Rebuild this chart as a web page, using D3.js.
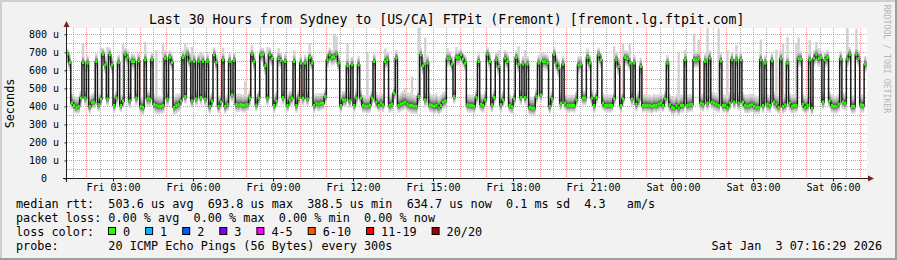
<!DOCTYPE html>
<html><head><meta charset="utf-8">
<script src="https://cdn.jsdelivr.net/npm/d3@7"></script>
<style>
body{margin:0;background:#f2f2f2}
svg{display:block}
text{font-family:"DejaVu Sans Mono",monospace;fill:#000;white-space:pre}
</style>
</head><body>
<svg id="chart" width="897" height="260"></svg>
<script>
// ---------------- data ----------------
const title = "Last 30 Hours from Sydney to [US/CA] FTPit (Fremont) [fremont.lg.ftpit.com]";
const yUnitLabel = "Seconds";
const watermark = "RRDTOOL / TOBI OETIKER";
const endTime = new Date(2026, 0, 3, 7, 16, 29);
const spanHours = 30;
const stepSeconds = 300;
const yMax = 832;

// median rtt per 300 s step, in microseconds
const median = [
690,643,420,405,394,400,446,643,447,640,400,420,424,649,410,440,689,630,442,686,
630,405,446,643,405,430,689,670,431,649,649,446,652,400,394,658,442,440,658,410,
405,400,400,405,665,442,671,643,395,405,410,430,671,455,689,652,431,649,442,652,
449,649,442,649,400,430,686,643,400,424,658,400,
410,650,465,655,410,408,410,405,408,410,446,689,648,408,446,686,689,625,446,686,
665,405,431,665,655,449,649,405,436,446,649,405,446,640,446,640,442,671,640,405,
418,412,418,418,455,658,686,671,676,689,640,405,436,436,625,431,630,405,446,630,
446,405,400,400,405,446,649,424,405,418,409,649,
660,405,412,473,667,405,412,418,424,412,405,405,400,400,455,686,625,436,640,409,
405,400,405,390,405,424,431,665,665,634,455,671,671,686,663,640,409,405,405,400,
449,649,412,405,436,689,649,409,449,658,621,409,436,667,649,405,398,442,671,634,
449,634,449,634,394,390,390,455,640,464,649,649,
640,400,442,689,640,612,418,634,418,405,405,405,405,436,630,634,446,446,671,640,
446,405,449,686,658,418,405,405,405,405,442,658,621,405,442,671,665,640,442,640,
412,436,621,405,405,405,405,400,405,405,412,418,405,442,640,409,394,390,405,390,
405,405,658,405,409,412,658,658,663,418,412,649,
418,667,424,418,412,405,652,405,405,394,418,658,424,658,418,658,424,405,400,405,
409,400,394,394,658,405,640,412,405,652,424,412,394,663,400,409,640,418,400,405,
405,665,663,412,394,405,658,390,667,686,665,671,424,658,671,431,405,400,400,412,
663,424,418,663,689,400,400,689,665,409,405,634
];
// smoke extent above / below the median (us)
const smokeUp = [
30,45,50,55,60,55,40,45,40,45,60,50,55,45,55,45,35,50,45,40,
45,60,40,45,55,50,35,45,50,45,40,45,45,60,55,45,45,50,40,60,
65,60,55,60,45,45,40,50,60,65,60,50,40,40,40,45,50,45,45,40,
40,45,45,45,60,50,40,45,55,50,45,60,
55,45,40,45,60,65,60,60,65,55,45,35,45,60,40,40,35,50,45,40,
40,60,50,45,45,40,45,60,50,45,45,60,45,45,45,45,45,40,45,60,
55,60,55,55,40,45,40,40,40,35,45,60,50,50,50,50,45,55,45,50,
45,60,60,60,55,45,45,55,60,55,60,45,
45,60,60,40,45,60,65,70,60,65,70,65,65,60,40,40,50,50,45,65,
60,65,70,65,60,55,50,45,40,45,40,40,40,35,40,45,60,60,60,60,
40,45,60,60,50,40,45,60,40,45,50,60,50,45,45,60,60,45,40,45,
40,45,40,45,60,65,60,40,45,40,45,45,
45,60,45,40,45,50,55,45,55,60,60,60,60,50,50,45,45,45,45,45,
45,60,40,40,45,55,60,65,60,60,45,45,50,60,45,40,45,45,45,45,
55,50,50,60,65,60,60,60,65,60,55,55,60,45,45,60,65,60,60,65,
60,60,45,60,60,55,45,45,45,55,55,45,
60,45,55,60,60,65,45,65,60,65,60,45,55,45,60,45,55,60,65,65,
60,65,65,60,45,60,45,55,60,45,55,60,65,45,60,60,45,55,65,60,
60,45,45,60,65,60,45,65,45,40,45,40,55,45,40,50,60,60,60,55,
45,55,55,45,40,60,60,40,45,60,60,45
];
const smokeDown = [
40,45,35,40,35,40,40,45,40,45,40,35,35,45,40,40,40,45,40,45,
45,40,40,45,35,40,40,45,40,45,45,40,45,45,40,45,40,40,45,40,
45,45,40,45,45,40,45,45,40,45,40,40,45,40,40,45,40,45,40,45,
40,45,40,45,40,40,45,45,40,40,45,40,
35,45,40,45,40,40,35,40,40,35,40,45,45,35,40,45,45,50,40,45,
45,40,40,45,45,40,45,35,40,40,45,40,40,45,40,45,40,45,45,40,
35,40,40,35,40,45,45,45,45,45,45,40,40,40,50,40,45,35,40,45,
40,40,35,40,40,40,45,35,35,40,40,45,
45,40,40,40,45,40,40,40,40,40,40,45,40,45,40,45,50,40,45,40,
40,45,40,35,40,40,40,45,45,45,40,45,45,45,45,45,40,40,40,40,
40,45,40,40,40,45,45,40,40,45,50,40,40,45,45,40,40,40,45,45,
40,45,40,45,40,40,40,40,45,40,45,45,
45,40,40,45,45,50,40,45,40,40,40,35,40,40,50,45,40,40,45,45,
40,40,40,45,45,40,35,40,40,35,40,45,50,40,40,45,45,45,40,45,
40,40,50,40,35,40,40,40,35,40,40,40,35,40,45,40,40,35,40,40,
40,40,45,40,40,40,45,45,45,40,40,45,
40,45,40,40,40,40,45,40,40,35,40,45,40,45,40,45,40,40,40,40,
40,40,35,35,45,40,45,40,40,45,40,40,35,45,40,40,45,40,40,40,
40,45,45,40,35,40,45,35,45,45,45,45,40,45,45,40,40,40,40,40,
45,40,40,45,45,40,40,45,45,40,40,45
];
// isolated pings far above the median: [step index, highest ping (us)]
const spikes = [
[7,752],[15,725],[18,730],[25,745],[27,711],[35,757],[40,711],[43,745],[53,752],[56,730],
[60,702],[70,724],[80,540],[83,739],[90,730],[95,724],[102,711],[109,752],[120,804],[121,790],
[126,748],[135,697],[143,721],[148,711],[152,500],[155,566],[158,844],[161,782],[171,721],[175,729],
[189,702],[194,711],[197,702],[203,734],[206,711],[213,702],[219,702],[234,721],[239,711],[246,734],
[250,748],[253,748],[275,697],[278,715],[282,804],[284,771],[288,844],[293,832],[297,715],[301,739],
[312,771],[319,715],[322,748],[324,785],[328,752],[329,782],[334,767],[337,758],[338,721],[342,711],
[351,832],[355,832]
];
const yTicks = [0,100,200,300,400,500,600,700,800];
const yTickLabels = ["0","100 u","200 u","300 u","400 u","500 u","600 u","700 u","800 u"];
const yMinorTicks = [50,150,250,350,450,550,650,750];
const statsMedian = ["median rtt:","503.6 us avg","693.8 us max","388.5 us min","634.7 us now","0.1 ms sd","4.3   am/s"];
const statsLoss = ["packet loss:","0.00 % avg","0.00 % max","0.00 % min","0.00 % now"];
const lossLabels = ["0","1","2","3","4-5","6-10","11-19","20/20"];
const lossColors = ["#26ff00","#00b8ff","#0059ff","#7e00ff","#ff00ff","#ff5500","#ff0000","#a10000"];
const probeText = "probe:       20 ICMP Echo Pings (56 Bytes) every 300s";
const stampText = "Sat Jan  3 07:16:29 2026";

// ---------------- drawing ----------------
const W = 897, H = 260;
const L = 67, R = 867, T = 28.5, B = 178.5;
const svg = d3.select("#chart");

svg.append("rect").attr("width", W).attr("height", H).attr("fill", "#f2f2f2");
svg.append("rect").attr("x", 0).attr("y", 0).attr("width", W).attr("height", 2).attr("fill", "#cfcfcf");
svg.append("rect").attr("x", 0).attr("y", 0).attr("width", 2).attr("height", H).attr("fill", "#cfcfcf");
svg.append("rect").attr("x", 0).attr("y", H - 2).attr("width", W).attr("height", 2).attr("fill", "#9e9e9e");
svg.append("rect").attr("x", W - 2).attr("y", 0).attr("width", 2).attr("height", H).attr("fill", "#9e9e9e");

svg.append("rect").attr("x", L).attr("y", 28).attr("width", R - L).attr("height", B - 28).attr("fill", "#fff");

const startTime = new Date(+endTime - spanHours * 3600e3);
const x = d3.scaleTime().domain([startTime, endTime]).range([L, R]);
const y = d3.scaleLinear().domain([0, yMax]).range([B, T]);

const stepMs = stepSeconds * 1000;
const N = median.length;
const lastEnd = Math.floor(+endTime / stepMs) * stepMs;
const tStart = i => new Date(lastEnd - (N - i) * stepMs);

// grid (under the data)
const grid = svg.append("g");
const px = v => Math.round(v) + 0.5;
const minorTimes = d3.timeMinute.every(30).range(startTime, endTime).filter(d => d.getMinutes() === 30);
const majorTimes = d3.timeHour.every(1).range(startTime, endTime);
const labelTimes = d3.timeHour.every(3).range(startTime, endTime);
grid.selectAll(".hmin").data(yMinorTicks).join("line")
  .attr("x1", L).attr("x2", R).attr("y1", d => px(y(d))).attr("y2", d => px(y(d)))
  .attr("stroke", "rgba(143,143,143,0.75)").attr("stroke-dasharray", "1,1");
grid.selectAll(".vmin").data(minorTimes).join("line")
  .attr("x1", d => px(x(d))).attr("x2", d => px(x(d))).attr("y1", 28).attr("y2", B)
  .attr("stroke", "rgba(143,143,143,0.75)").attr("stroke-dasharray", "1,1");
grid.selectAll(".hmaj").data(yTicks.filter(d => d > 0)).join("line")
  .attr("x1", L).attr("x2", R).attr("y1", d => px(y(d))).attr("y2", d => px(y(d)))
  .attr("stroke", "rgba(222,79,79,0.6)").attr("stroke-dasharray", "1,1");
grid.selectAll(".vmaj").data(majorTimes).join("line")
  .attr("x1", d => px(x(d))).attr("x2", d => px(x(d))).attr("y1", 28).attr("y2", B)
  .attr("stroke", "rgba(222,79,79,0.6)").attr("stroke-dasharray", "1,1");

svg.append("clipPath").attr("id", "plotclip").append("rect")
  .attr("x", L).attr("y", 28).attr("width", R - L).attr("height", B - 28);
const plot = svg.append("g").attr("clip-path", "url(#plotclip)");

// spikes
plot.append("g").selectAll("rect").data(spikes).join("rect")
  .attr("x", d => x(tStart(d[0])))
  .attr("width", d => x(tStart(d[0] + 1)) - x(tStart(d[0])) + 0.1)
  .attr("y", d => y(d[1]))
  .attr("height", d => Math.max(0, y(median[d[0]]) - y(d[1])))
  .attr("fill", "#d0d0d0");

// smoke layers
const smokeFrac = [1, 0.72, 0.48, 0.3, 0.14];
const smokeCol = ["#d8d8d8", "#bababa", "#969696", "#6c6c6c", "#434343"];
const idx = d3.range(N);
smokeFrac.forEach((f, k) => {
  plot.append("g").selectAll("rect").data(idx).join("rect")
    .attr("x", i => x(tStart(i)))
    .attr("width", i => x(tStart(i + 1)) - x(tStart(i)) + 0.1)
    .attr("y", i => y(median[i] + f * smokeUp[i]))
    .attr("height", i => y(median[i] - f * smokeDown[i]) - y(median[i] + f * smokeUp[i]))
    .attr("fill", smokeCol[k]);
});

// median step line
const pts = idx.map(i => [tStart(i), median[i]]);
pts.push([tStart(N), median[N - 1]]);
plot.append("path").datum(pts)
  .attr("d", d3.line().x(d => x(d[0])).y(d => y(d[1])).curve(d3.curveStepAfter))
  .attr("fill", "none").attr("stroke", "#1a1a1a").attr("stroke-width", 1.5);

// loss-coloured median band (0 loss everywhere)
plot.append("g").selectAll("rect").data(idx).join("rect")
  .attr("x", i => x(tStart(i)))
  .attr("width", i => x(tStart(i + 1)) - x(tStart(i)) + 0.1)
  .attr("y", i => y(median[i]) - 1.5)
  .attr("height", 3)
  .attr("fill", lossColors[0]);

// axes
const xAxis = d3.axisBottom(x).tickValues(labelTimes).tickFormat(d3.timeFormat("%a %H:%M"))
  .tickSize(3).tickPadding(2);
const gx = svg.append("g").attr("transform", `translate(0,${B})`).call(xAxis);
gx.select(".domain").remove();
gx.selectAll("line").attr("stroke", "#1f1f1f");
gx.selectAll("text").style("font-family", "DejaVu Sans Mono").style("font-size", "10px").attr("fill", "#000");

const yAxis = d3.axisLeft(y).tickValues(yTicks).tickFormat((d, i) => yTickLabels[i])
  .tickSize(2).tickPadding(5.5);
const gy = svg.append("g").attr("transform", `translate(${L - 0.5},0)`).call(yAxis);
gy.select(".domain").remove();
gy.selectAll("line").attr("stroke", "#1f1f1f");
gy.selectAll("text").style("font-family", "DejaVu Sans Mono").style("font-size", "10px").attr("fill", "#000");
gy.selectAll(".tick").filter(d => d === 0).select("text").attr("x", -19.5);

svg.append("line").attr("x1", 63).attr("x2", 868).attr("y1", B).attr("y2", B)
  .attr("stroke", "#1f1f1f").attr("stroke-width", 1);
svg.append("line").attr("x1", L - 0.5).attr("x2", L - 0.5).attr("y1", 182).attr("y2", 26)
  .attr("stroke", "#1f1f1f").attr("stroke-width", 1);
svg.append("path").attr("d", `M868,${B - 3}L874,${B}L868,${B + 3}Z`).attr("fill", "#801f1f");
svg.append("path").attr("d", `M${L - 3.5},27L${L - 0.5},21L${L + 2.5},27Z`).attr("fill", "#801f1f");

// texts
svg.append("text").attr("x", 446.7).attr("y", 24).attr("text-anchor", "middle")
  .style("font-size", "13.2px").text(title);
svg.append("text").attr("transform", "translate(14,103.5) rotate(-90)").attr("text-anchor", "middle")
  .style("font-size", "11.8px").text(yUnitLabel);
svg.append("text").attr("transform", "translate(883.5,59) rotate(90)").attr("text-anchor", "middle")
  .style("font-size", "8.2px").style("fill", "#b5b5b5").text(watermark);

const lf = "11.8px";
svg.append("text").attr("x", 16).attr("y", 207.5).style("font-size", lf).text(statsMedian.join("  "));
svg.append("text").attr("x", 16).attr("y", 221.7).style("font-size", lf).text(statsLoss[0] + " " + statsLoss.slice(1).join("  "));
svg.append("text").attr("x", 16).attr("y", 235.7).style("font-size", lf).text("loss color:");
let bx = 108;
lossLabels.forEach((lab, k) => {
  svg.append("rect").attr("x", bx + 0.5).attr("y", 227.5).attr("width", 7).attr("height", 7)
    .attr("fill", lossColors[k]).attr("stroke", "#000").attr("stroke-width", 1);
  svg.append("text").attr("x", bx + 15).attr("y", 235.7).style("font-size", lf).text(lab);
  bx += 30 + lab.length * 7.1;
});
svg.append("text").attr("x", 16).attr("y", 249.8).style("font-size", lf).text(probeText);
svg.append("text").attr("x", 882).attr("y", 249.8).attr("text-anchor", "end").style("font-size", lf).text(stampText);
</script>
</body></html>
